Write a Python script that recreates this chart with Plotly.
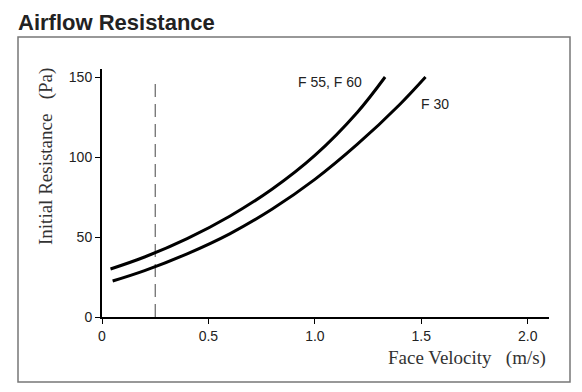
import plotly.graph_objects as go

# Data
x_f55 = [0.04, 0.20, 0.40, 0.60, 0.80, 1.00, 1.20, 1.33]
y_f55 = [30.0, 37.5, 49.0, 63.0, 80.0, 101.0, 128.0, 150.0]
x_f30 = [0.05, 0.20, 0.40, 0.60, 0.80, 1.00, 1.20, 1.40, 1.52]
y_f30 = [22.5, 29.0, 39.5, 52.0, 67.5, 86.0, 108.0, 133.0, 150.0]
x_ticks = [0, 0.5, 1.0, 1.5, 2.0]
x_tick_labels = ["0", "0.5", "1.0", "1.5", "2.0"]
y_ticks = [0, 50, 100, 150]
y_tick_labels = ["0", "50", "100", "150"]
ref_x = 0.25
ref_y = [0, 148]

SANS = "Liberation Sans, Arial, sans-serif"
SERIF = "Liberation Serif, Times New Roman, serif"

# page has an 8px body margin; compensate so the plot lands where the reference has it
OFF = 8
W, H = 582 - OFF, 392 - OFF
L, T, R, B = 102 - OFF, 69 - OFF, 33, 75
PW, PH = W - L - R, H - T - B  # 447 x 248


def px(xp):  # reference pixel x -> paper
    return (xp - 102) / PW


def py(yp):  # reference pixel y -> paper
    return (317 - yp) / PH


fig = go.Figure()
fig.add_trace(go.Scatter(x=[ref_x, ref_x], y=ref_y, mode="lines",
                         line=dict(color="#444444", width=1, dash="13px,7px"),
                         hoverinfo="skip", showlegend=False))
fig.add_trace(go.Scatter(x=x_f55, y=y_f55, mode="lines", line_shape="spline",
                         line=dict(color="black", width=3), name="F 55, F 60", showlegend=False))
fig.add_trace(go.Scatter(x=x_f30, y=y_f30, mode="lines", line_shape="spline",
                         line=dict(color="black", width=3), name="F 30", showlegend=False))

fig.update_layout(
    width=W, height=H,
    margin=dict(l=L, r=R, t=T, b=B),
    paper_bgcolor="white", plot_bgcolor="white",
    font=dict(family=SANS, color="#222222", size=14),
    xaxis=dict(range=[0, 2.1], tickvals=x_ticks, ticktext=x_tick_labels,
               showgrid=False, zeroline=False, showline=True, linecolor="black", linewidth=2,
               ticks="outside", ticklen=5, tickcolor="black", tickwidth=1,
               tickfont=dict(family=SANS, size=14, color="#222")),
    yaxis=dict(range=[0, 155], tickvals=y_ticks, ticktext=y_tick_labels,
               showgrid=False, zeroline=False, showline=True, linecolor="black", linewidth=2,
               ticks="outside", ticklen=5, tickcolor="black", tickwidth=1,
               tickfont=dict(family=SANS, size=14, color="#222")),
    shapes=[dict(type="rect", xref="paper", yref="paper", layer="below",
                 x0=px(18), x1=px(570), y0=py(382), y1=py(37),
                 line=dict(color="#777777", width=1.5))],
    annotations=[
        dict(text="<b>Airflow Resistance</b>", xref="paper", yref="paper",
             x=px(17), y=py(8.5), xanchor="left", yanchor="top", showarrow=False,
             borderpad=0, font=dict(family=SANS, size=22, color="#222")),
        dict(text="Initial Resistance   (Pa)", xref="paper", yref="paper",
             x=px(46), y=py(157), xanchor="center", yanchor="middle", textangle=-90,
             showarrow=False, font=dict(family=SERIF, size=19, color="#333")),
        dict(text="Face Velocity   (m/s)", xref="paper", yref="paper",
             x=px(548), y=py(358), xanchor="right", yanchor="middle",
             showarrow=False, font=dict(family=SERIF, size=19, color="#333")),
        dict(text="F 55, F 60", x=0.91, y=147, xref="x", yref="y", xanchor="left",
             yanchor="middle", showarrow=False, font=dict(family=SANS, size=14, color="#222")),
        dict(text="F 30", x=1.49, y=133, xref="x", yref="y", xanchor="left",
             yanchor="middle", showarrow=False, font=dict(family=SANS, size=14, color="#222")),
    ],
)

fig.write_html("out.html")
